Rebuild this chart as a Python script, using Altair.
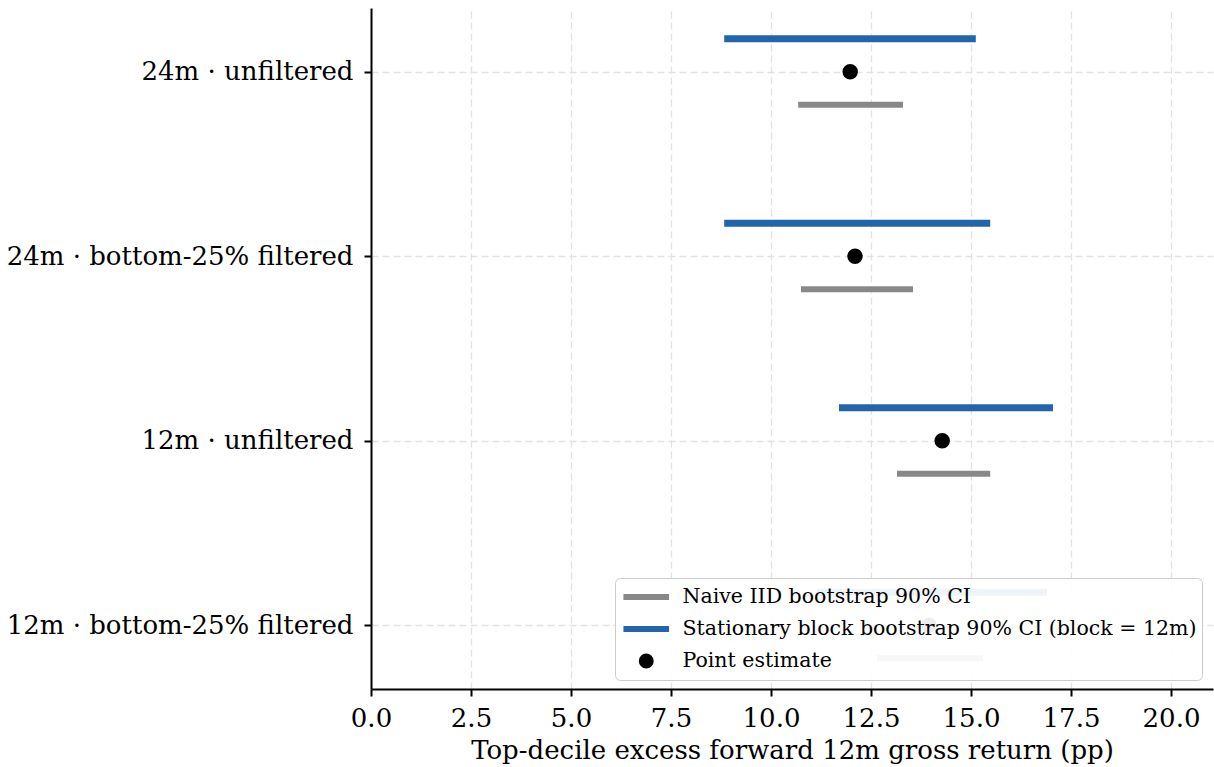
import altair as alt
import pandas as pd

# ---- data ----
categories = [
    "24m · unfiltered",
    "24m · bottom-25% filtered",
    "12m · unfiltered",
    "12m · bottom-25% filtered",
]
naive_lo = [10.68, 10.75, 13.15, 12.65]
naive_hi = [13.30, 13.55, 15.48, 15.30]
block_lo = [8.83, 8.83, 11.70, 11.15]
block_hi = [15.12, 15.48, 17.05, 16.90]
point_est = [11.98, 12.10, 14.28, 13.95]

series = [
    "Naive IID bootstrap 90% CI",
    "Stationary block bootstrap 90% CI (block = 12m)",
    "Point estimate",
]
colors = ["#888888", "#2166ac", "#000000"]
# legend glyphs: a horizontal line for the intervals, a dot for the estimate
line_glyph = "M-5.1,0H5.1"
legend_shapes = [line_glyph, line_glyph, "circle"]
x_ticks = [0.0, 2.5, 5.0, 7.5, 10.0, 12.5, 15.0, 17.5, 20.0]
x_title = "Top-decile excess forward 12m gross return (pp)"

naive_df = pd.DataFrame({"cat": categories, "lo": naive_lo, "hi": naive_hi, "series": series[0]})
block_df = pd.DataFrame({"cat": categories, "lo": block_lo, "hi": block_hi, "series": series[1]})
point_df = pd.DataFrame({"cat": categories, "val": point_est, "series": series[2]})

FONT = "DejaVu Serif"

x_scale = alt.Scale(domain=[0, 21.05], nice=False, zero=False)
x_axis = alt.Axis(
    values=x_ticks, format=".1f", title=x_title,
    titleFont=FONT, titleFontSize=26, titleFontWeight="normal", titleColor="#000000",
    titlePadding=6,
    labelFont=FONT, labelFontSize=26, labelColor="#000000", labelPadding=9,
    labelFlush=False,
    tickSize=7, tickWidth=2, tickColor="#000000",
    domainColor="#000000", domainWidth=2,
    grid=True, gridDash=[7, 4], gridColor="#e2e2e2", gridWidth=1.3,
)
y_enc = alt.Y(
    "cat:N", sort=categories,
    scale=alt.Scale(type="point", padding=0.345),
    axis=alt.Axis(
        title=None,
        labelFont=FONT, labelFontSize=26, labelColor="#000000", labelPadding=11,
        labelLimit=500,
        tickSize=7, tickWidth=2, tickColor="#000000",
        domainColor="#000000", domainWidth=2,
        grid=True, gridDash=[7, 4], gridColor="#e2e2e2", gridWidth=1.3,
    ),
)

legend = alt.Legend(
    title=None, orient="none", legendX=244, legendY=570,
    symbolSize=80, symbolStrokeWidth=6, symbolOffset=16,
    labelFont=FONT, labelFontSize=20.5, labelColor="#000000", labelOffset=26,
    labelLimit=600,
    clipHeight=28, rowPadding=4, padding=5,
    fillColor="rgba(255,255,255,0.93)", strokeColor="#cccccc", cornerRadius=5,
)

color_enc = alt.Color("series:N", scale=alt.Scale(domain=series, range=colors), legend=legend)
shape_enc = alt.Shape("series:N", scale=alt.Scale(domain=series, range=legend_shapes), legend=legend)

block = alt.Chart(block_df).mark_rule(strokeWidth=7, yOffset=-33).encode(
    x=alt.X("lo:Q", scale=x_scale, axis=x_axis),
    x2="hi:Q",
    y=y_enc,
    color=color_enc,
)
naive = alt.Chart(naive_df).mark_rule(strokeWidth=6, yOffset=33).encode(
    x=alt.X("lo:Q", scale=x_scale, axis=x_axis),
    x2="hi:Q",
    y=y_enc,
    color=color_enc,
)
points = alt.Chart(point_df).mark_point(
    filled=True, opacity=1, size=90, stroke="#000000", strokeWidth=6
).encode(
    x=alt.X("val:Q", scale=x_scale, axis=x_axis),
    y=y_enc,
    color=color_enc,
    shape=shape_enc,
)

chart = (
    alt.layer(block, naive, points)
    .properties(
        width=842, height=681,
        autosize=alt.AutoSizeParams(type="none"),
        padding={"left": 371, "top": 8, "right": 1, "bottom": 78},
        background="white",
    )
    .configure_view(stroke=None)
)

chart.save("out.html", embed_options={"renderer": "svg", "actions": False})
